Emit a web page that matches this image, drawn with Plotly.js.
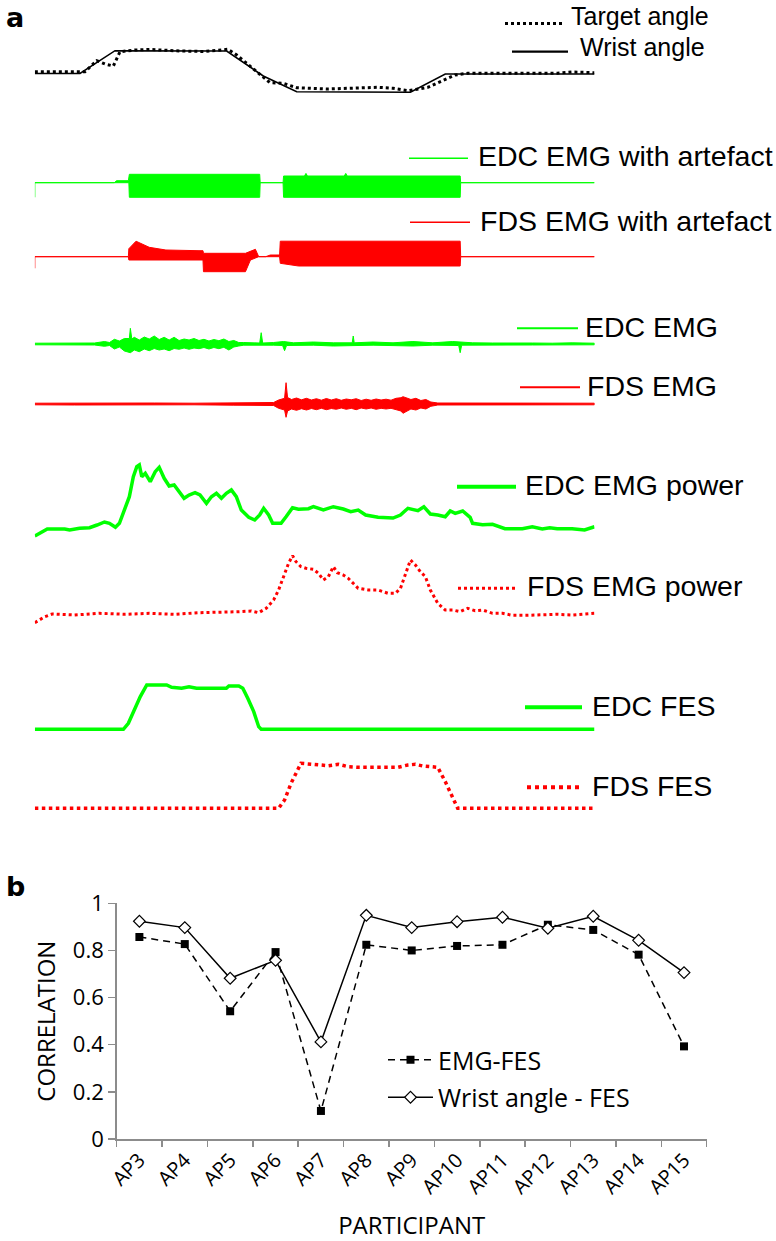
<!DOCTYPE html>
<html>
<head>
<meta charset="utf-8">
<script src="https://cdn.plot.ly/plotly-3.0.1.min.js"></script>
<style>html,body{margin:0;padding:0;background:#fff;}#chart{width:776px;height:1241px;}</style>
</head>
<body>
<div id="chart"></div>
<script>
// ---------------- DATA (panel a: time in s, amplitude in arbitrary units above baseline) ----------------
const wristT = [0, 4.54, 8.06, 19.28, 22.96, 26.32, 37.75, 41.25, 56.25];
const wristV = [0.5, 0.5, 23.3, 23, -2, -17.7, -18.3, 0, 0];

const targetT = [0, 5.04, 6.22, 7.05, 7.89, 8.56, 10.07, 11.58, 14.59, 17.1, 19.41, 20.29, 22.3, 23.63, 24.94, 26.32, 29.33, 34.5, 36, 37.5, 39.5, 41.5, 42.25, 43.5, 52.5, 54, 56.25];
const targetV = [2.3, 2.3, 13.3, 10, 8, 22.3, 24, 24.5, 23, 22.5, 24.7, 19, 2.3, -8.7, -9.3, -13.7, -15, -13.3, -14.3, -16.7, -13.3, -4.3, -1, 0.7, 0.7, 2, 1.3];

// EDC EMG with artefact (envelope)
const edcArtUpT = [0, 8, 8.2, 9.4, 9.5, 22.6, 22.65, 24.95, 25, 27.1, 27.25, 27.4, 31.1, 31.25, 31.4, 42.75, 42.8, 56.25];
const edcArtUp  = [0, 0, 2, 2, 8.4, 8.4, 0, 0, 6.7, 6.7, 9.3, 6.7, 6.7, 9.3, 6.7, 6.7, 0, 0];
const edcArtLoT = [0, 0, 9.45, 9.5, 22.6, 22.65, 24.95, 25, 42.75, 42.8, 56.25];
const edcArtLo  = [-14.6, 0, 0, -14.6, -14.6, 0, 0, -14.6, -14.6, 0, 0];

// FDS EMG with artefact (envelope)
const fdsArtUpT = [0, 9.4, 9.45, 10.17, 11.5, 13.17, 16.5, 16.9, 16.95, 21.17, 22.17, 22.5, 23.2, 23.67, 24.6, 24.67, 42.75, 42.8, 56.25];
const fdsArtUp  = [0, 0, 8, 15.5, 9.4, 6.7, 6, 6, 3.4, 3.4, 7.4, 0, 0, 1.7, 1.7, 15.5, 15.5, 0, 0];
const fdsArtLoT = [0, 0, 9.4, 9.45, 16.9, 16.95, 21.17, 21.67, 22.5, 24.6, 24.67, 26.5, 42.75, 42.8, 56.25];
const fdsArtLo  = [-11.6, 0, 0, -3.3, -3.3, -15, -15, -3.3, 0, 0, -6.6, -9.3, -9.3, 0, 0];

// EDC EMG (envelope)
const edcEmgUpT = [0, 2, 4, 6, 7, 7.5, 8, 8.5, 9, 9.5, 9.6, 9.75, 10, 10.5, 11, 11.5, 12, 12.5, 13, 13.5, 14, 14.5, 15, 15.5, 16, 16.5, 17, 17.5, 18, 18.5, 19, 19.5, 20, 20.5, 21, 22.6, 22.75, 22.9, 24, 25, 26, 28, 30, 31.9, 32, 32.1, 34, 36, 38, 40, 42, 44, 46, 48, 50, 52, 54, 56.25];
const edcEmgUp  = [0.8, 0.8, 1, 1, 2.5, 1.5, 4.7, 3, 5.5, 5.5, 15.7, 5, 6.7, 4, 7, 5, 8, 4.5, 6.7, 4, 6.7, 3.5, 5, 4, 5.5, 3.5, 4.7, 3, 4.5, 3.3, 5, 2.5, 3.5, 1.5, 1.5, 1, 11.3, 1, 1.5, 2.5, 1.2, 2, 1.2, 1.2, 8, 1.2, 2, 1.2, 2.5, 1.2, 2.5, 1.2, 1, 1.2, 1, 0.8, 1.2, 0.8];
const edcEmgLoT = [0, 2, 4, 6, 7, 7.5, 8, 8.5, 9, 9.6, 10, 10.5, 11, 11.5, 12, 12.5, 13, 13.5, 14, 14.5, 15, 15.5, 16, 16.5, 17, 17.5, 18, 18.5, 19, 19.5, 20, 20.5, 21, 24, 24.9, 25.1, 25.3, 28, 30, 34, 38, 40, 42.6, 42.75, 42.9, 46, 50, 56.25];
const edcEmgLo  = [-0.8, -0.8, -1, -1, -2.3, -1.5, -5, -3, -7, -8.7, -6, -7.7, -5, -6.7, -4.5, -6, -5, -6.7, -4.5, -5.3, -4, -5.3, -4, -4.7, -3.5, -5, -3.5, -4.7, -3.3, -6, -3, -2, -1.2, -1.2, -1.5, -6.7, -1.5, -1.2, -2, -1.2, -2, -1.2, -1.5, -8.7, -1.2, -1, -1, -0.8];

// FDS EMG (envelope)
const fdsEmgT  = [0, 4, 8, 12, 16, 20, 22, 24, 24.5, 25.1, 25.25, 25.4, 25.8, 26.3, 26.8, 27.3, 27.8, 28.3, 28.8, 29.3, 29.8, 30.3, 30.8, 31.3, 31.8, 32.3, 32.8, 33.3, 33.8, 34.3, 34.8, 35.3, 35.8, 36.3, 36.8, 37, 37.3, 37.8, 38.3, 38.8, 39.3, 39.8, 40.5, 44, 48, 52, 56.25];
const fdsEmgUp = [0.8, 1, 0.8, 1, 0.8, 1.2, 1, 1.5, 4, 5.7, 21.3, 6.5, 4.5, 6, 4.2, 5.7, 4, 5.3, 3.8, 5.5, 4, 5.3, 3.7, 5, 4.2, 5.3, 3.5, 4.8, 3.7, 5, 4, 4.8, 3.8, 5.7, 6.3, 7.3, 6.3, 4.5, 5.7, 3.5, 4.5, 2, 1, 1, 0.8, 1, 0.8];
const fdsEmgLo = [-0.8, -1, -0.8, -1, -0.8, -1.2, -1, -1.5, -4.3, -6, -13.3, -7, -5, -6.3, -4.7, -6, -4.5, -5.7, -4.3, -5.7, -4.5, -5.3, -4, -5.3, -4.3, -5.7, -4, -5, -4, -5.3, -4.3, -5, -4.3, -6, -7, -9.3, -7.3, -5, -6, -4, -5, -2.3, -1, -1, -0.8, -1, -0.8];

// EDC EMG power
const edcPowT = [0, 1.25, 3.0, 3.5, 4.5, 5.5, 6.25, 7.0, 7.5, 8.1, 8.5, 9.0, 9.5, 9.9, 10.25, 10.5, 10.75, 11.1, 11.6, 12.1, 12.5, 13.0, 13.5, 14.0, 14.5, 15.0, 15.5, 16.1, 16.6, 17.25, 17.75, 18.25, 18.75, 19.25, 19.75, 20.25, 20.75, 21.5, 22.1, 22.6, 23.0, 23.5, 23.9, 24.75, 25.25, 25.9, 26.5, 27.5, 28.0, 29.0, 30.0, 31.0, 31.75, 32.5, 33.25, 34.5, 36.0, 36.75, 37.5, 38.0, 38.5, 39.1, 39.75, 40.5, 41.25, 41.75, 42.25, 43.0, 43.75, 44.0, 45.0, 46.0, 46.5, 47.25, 49.0, 50.0, 51.0, 51.75, 52.5, 54.0, 55.25, 56.25];
const edcPowV = [-8, -1, -1, -2, -0.3, 0.3, 3, 6, 4.7, 0.7, 4.7, 18, 31.3, 51.3, 61.3, 63, 51.3, 54.7, 46.3, 56.3, 60.7, 49.7, 42, 43, 36.3, 29.7, 33, 35.3, 33, 24.7, 31.3, 34.7, 29.7, 34.7, 38, 31.3, 18, 10.7, 8, 13, 19.7, 13, 4.7, 4.7, 11.3, 20.3, 18.7, 19.3, 21.3, 18, 21.3, 19, 16.3, 18, 13, 10.7, 10, 13, 19.7, 18.7, 17.3, 21.3, 14, 13, 11.3, 17, 14.7, 17, 10.7, 4.7, 3.3, 3.7, 2, -0.7, -0.7, 1.3, -1, 0.3, -0.7, -0.7, -2, 1.3];

// FDS EMG power
const fdsPowT = [0, 1.0, 1.75, 4.0, 6.5, 9.0, 11.5, 14.0, 16.5, 19.0, 20.5, 21.75, 22.5, 23.25, 24.0, 24.5, 25.0, 25.5, 25.9, 26.25, 26.75, 27.25, 28.0, 28.5, 29.0, 29.5, 30.0, 30.4, 31.0, 31.5, 32.0, 32.5, 33.5, 34.5, 35.5, 36.25, 36.75, 37.25, 37.75, 38.25, 38.75, 39.25, 39.75, 40.5, 41.25, 42.0, 42.75, 43.5, 44.25, 45.0, 46.0, 47.0, 48.0, 49.5, 51.0, 52.5, 54.0, 56.25];
const fdsPowV = [-7.7, -1.7, 1, 0, 1.7, 0.7, 1.7, 0.7, 2.3, 2.7, 3.3, 4, 2.3, 6.7, 15, 25, 38.3, 51.7, 59.3, 53.3, 48.3, 46.7, 45.7, 41.7, 35, 38.3, 48.3, 42.3, 40, 36.7, 31.7, 26.7, 25, 25, 21.7, 21.7, 26.7, 41.7, 55, 50, 43.3, 38.3, 25, 11.7, 5, 5, 3.3, 6.7, 4.3, 5, 1.7, 1.7, -0.3, -0.3, 0, 0.7, 0, 1.7];

// EDC FES
const edcFesT = [0, 8.9, 9.4, 10.0, 10.6, 11.25, 13.25, 13.75, 14.75, 15.5, 16.25, 19.25, 19.5, 20.5, 20.9, 21.4, 22.0, 22.5, 22.75, 56.25];
const edcFesV = [0, 0, 6, 19.3, 32.7, 44.3, 44.3, 42, 41, 42.6, 41, 41, 43.3, 43.3, 41, 31, 17.7, 2.6, 0, 0];

// FDS FES
const fdsFesT = [0, 24.5, 25.1, 25.75, 26.75, 28.5, 29.5, 30.5, 31.5, 32.5, 36.5, 37.5, 38.25, 39.0, 40.5, 41.25, 42.0, 42.5, 56.25];
const fdsFesV = [0, 0, 8.3, 25, 45, 44, 42.6, 44, 41.6, 41, 41, 43.3, 44, 42.3, 41, 26.7, 11.7, 0, 0];

// ---------------- DATA (panel b) ----------------
const participants = ['AP3','AP4','AP5','AP6','AP7','AP8','AP9','AP10','AP11','AP12','AP13','AP14','AP15'];
const emgFes   = [0.857, 0.827, 0.542, 0.793, 0.119, 0.824, 0.800, 0.819, 0.824, 0.909, 0.887, 0.782, 0.393];
const wristFes = [0.924, 0.897, 0.682, 0.758, 0.412, 0.949, 0.897, 0.922, 0.941, 0.894, 0.945, 0.843, 0.706];

// ---------------- LAYOUT / STYLE ----------------
const W = 776, H = 1241;
const GREEN = '#00ff00', RED = '#ff0000';
const fx = p => p / W;
const fy = p => 1 - p / H;

// pixel bands for each signal row: baseline, top, bottom
const bands = {
  angle:  {ax: '',  base: 74,    top: 36,  bottom: 102},
  edcArt: {ax: '2', base: 182.7, top: 165, bottom: 205},
  fdsArt: {ax: '3', base: 256.7, top: 232, bottom: 280},
  edcEmg: {ax: '4', base: 344,   top: 320, bottom: 362},
  fdsEmg: {ax: '5', base: 404,   top: 374, bottom: 428},
  edcPow: {ax: '6', base: 528,   top: 455, bottom: 545},
  fdsPow: {ax: '7', base: 615,   top: 548, bottom: 632},
  edcFes: {ax: '8', base: 729.3, top: 670, bottom: 742},
  fdsFes: {ax: '9', base: 808.3, top: 752, bottom: 822}
};
const xA = {domain: [34.83 / W, 594.5 / W], range: [0, 56.25]};

const layout = {
  width: W, height: H,
  margin: {l: 0, r: 0, t: 0, b: 0},
  paper_bgcolor: '#ffffff',
  plot_bgcolor: 'rgba(0,0,0,0)',
  showlegend: true,
  xaxis: {domain: xA.domain, range: xA.range, visible: false, anchor: 'y', fixedrange: true},
  annotations: [],
  shapes: []
};
for (const k in bands) {
  const b = bands[k];
  layout['yaxis' + b.ax] = {
    domain: [fy(b.bottom), fy(b.top)],
    range: [-(b.bottom - b.base), b.base - b.top],
    visible: false, anchor: 'x', fixedrange: true
  };
}

const traces = [];
function lineTrace(t, v, band, color, width, dash) {
  traces.push({
    type: 'scatter', mode: 'lines', x: t, y: v,
    xaxis: 'x', yaxis: 'y' + bands[band].ax,
    line: {color: color, width: width, dash: dash || 'solid'},
    showlegend: false, hoverinfo: 'skip'
  });
}
function envTrace(tu, vu, tl, vl, band, color) {
  traces.push({
    type: 'scatter', mode: 'lines',
    x: tu.concat(tl.slice().reverse()),
    y: vu.concat(vl.slice().reverse()),
    fill: 'toself', fillcolor: color,
    xaxis: 'x', yaxis: 'y' + bands[band].ax,
    line: {color: color, width: 1},
    showlegend: false, hoverinfo: 'skip'
  });
}

lineTrace(wristT, wristV, 'angle', '#000000', 1.6);
lineTrace(targetT, targetV, 'angle', '#000000', 3, 'dot');
envTrace(edcArtUpT, edcArtUp, edcArtLoT, edcArtLo, 'edcArt', GREEN);
envTrace(fdsArtUpT, fdsArtUp, fdsArtLoT, fdsArtLo, 'fdsArt', RED);
envTrace(edcEmgUpT, edcEmgUp, edcEmgLoT, edcEmgLo, 'edcEmg', GREEN);
envTrace(fdsEmgT, fdsEmgUp, fdsEmgT, fdsEmgLo, 'fdsEmg', RED);
lineTrace(edcPowT, edcPowV, 'edcPow', GREEN, 3.5);
lineTrace(fdsPowT, fdsPowV, 'fdsPow', RED, 3, 'dot');
lineTrace(edcFesT, edcFesV, 'edcFes', GREEN, 3.5);
lineTrace(fdsFesT, fdsFesV, 'fdsFes', RED, 3.5, 'dot');

// labels of panel a (legend-like keys)
const keys = [
  {text: 'Target angle',          tx: 569, ty: 16,  fs: 25,   x0: 505, x1: 564, ly: 23.5, color: '#000', width: 3,   dash: 'dot'},
  {text: 'Wrist angle',           tx: 578, ty: 47,  fs: 25,   x0: 512, x1: 568, ly: 51.7, color: '#000', width: 2.2, dash: 'solid'},
  {text: 'EDC EMG with artefact', tx: 476, ty: 156, fs: 28.5, x0: 409, x1: 468, ly: 158.3, color: GREEN, width: 1.5, dash: 'solid'},
  {text: 'FDS EMG with artefact', tx: 478, ty: 221, fs: 28.5, x0: 410, x1: 470, ly: 222.3, color: RED,   width: 1.5, dash: 'solid'},
  {text: 'EDC EMG',               tx: 583, ty: 327, fs: 28.5, x0: 517, x1: 578, ly: 328.3, color: GREEN, width: 2,   dash: 'solid'},
  {text: 'FDS EMG',               tx: 585, ty: 386, fs: 28.5, x0: 520, x1: 580, ly: 387.3, color: RED,   width: 2,   dash: 'solid'},
  {text: 'EDC EMG power',         tx: 523, ty: 485, fs: 28.5, x0: 457, x1: 516, ly: 486.7, color: GREEN, width: 4,   dash: 'solid'},
  {text: 'FDS EMG power',         tx: 525, ty: 586, fs: 28.5, x0: 458, x1: 515, ly: 588.3, color: RED,   width: 3,   dash: 'dot'},
  {text: 'EDC FES',               tx: 590, ty: 706, fs: 28.5, x0: 525, x1: 582, ly: 707.3, color: GREEN, width: 4,   dash: 'solid'},
  {text: 'FDS FES',               tx: 590, ty: 786, fs: 28.5, x0: 527, x1: 582, ly: 787.3, color: RED,   width: 4,   dash: 'dot'}
];
for (const k of keys) {
  layout.annotations.push({
    xref: 'paper', yref: 'paper', x: fx(k.tx), y: fy(k.ty),
    xanchor: 'left', yanchor: 'middle', showarrow: false, text: k.text,
    font: {family: '"Liberation Sans", Arial, sans-serif', size: k.fs, color: '#000'}
  });
  layout.shapes.push({
    type: 'line', xref: 'paper', yref: 'paper',
    x0: fx(k.x0), x1: fx(k.x1), y0: fy(k.ly), y1: fy(k.ly),
    line: {color: k.color, width: k.width, dash: k.dash}
  });
}
layout.annotations.push({xref: 'paper', yref: 'paper', x: fx(4), y: fy(18), xanchor: 'left', yanchor: 'middle', showarrow: false,
  text: '<b>a</b>', font: {family: '"DejaVu Sans", sans-serif', size: 27, color: '#000'}});
layout.annotations.push({xref: 'paper', yref: 'paper', x: fx(4), y: fy(886), xanchor: 'left', yanchor: 'middle', showarrow: false,
  text: '<b>b</b>', font: {family: '"DejaVu Sans", sans-serif', size: 27, color: '#000'}});

// ---------------- panel b ----------------
const AXG = '#8c8c8c';
const FB = '"Open Sans", sans-serif';
layout.xaxis2 = {
  domain: [fx(116.7), fx(706.7)], anchor: 'y10', type: 'category',
  range: [-0.5, participants.length - 0.5],
  showline: true, linecolor: AXG, linewidth: 1.5,
  ticks: 'outside', tickson: 'boundaries', ticklen: 6, tickcolor: AXG, tickwidth: 1.5,
  tickangle: -45, tickfont: {family: FB, size: 20, color: '#000'},
  showgrid: false, zeroline: false, fixedrange: true,
  title: {text: 'PARTICIPANT', font: {family: FB, size: 24, color: '#000'}, standoff: 20}
};
layout.yaxis10 = {
  domain: [fy(1139), fy(903.3)], anchor: 'x2', range: [0, 1], dtick: 0.2, tick0: 0,
  showline: true, linecolor: AXG, linewidth: 1.5,
  ticks: 'outside', ticklen: 7, tickcolor: AXG, tickwidth: 1.5,
  tickfont: {family: FB, size: 22, color: '#000'},
  showgrid: false, zeroline: false, fixedrange: true,
  title: {text: 'CORRELATION', font: {family: FB, size: 24, color: '#000'}, standoff: 10}
};
traces.push({
  type: 'scatter', mode: 'lines+markers', name: 'EMG-FES',
  x: participants, y: emgFes, xaxis: 'x2', yaxis: 'y10',
  line: {color: '#000', width: 1.5, dash: '7px,5px'},
  marker: {symbol: 'square', size: 8, color: '#000'},
  legendgroup: 'g1', cliponaxis: false
});
traces.push({
  type: 'scatter', mode: 'lines+markers', name: 'Wrist angle - FES',
  x: participants, y: wristFes, xaxis: 'x2', yaxis: 'y10',
  line: {color: '#000', width: 1.5},
  marker: {symbol: 'diamond', size: 9, color: '#fff', line: {color: '#000', width: 1.2}},
  legendgroup: 'g2', cliponaxis: false
});
layout.legend = {
  x: fx(383), y: fy(1037), xanchor: 'left', yanchor: 'top',
  bgcolor: 'rgba(0,0,0,0)', borderwidth: 0,
  font: {family: FB, size: 25, color: '#000'},
  traceorder: 'grouped', tracegroupgap: 2, itemwidth: 45
};

Plotly.newPlot('chart', traces, layout, {staticPlot: true, displayModeBar: false});
</script>
</body>
</html>
